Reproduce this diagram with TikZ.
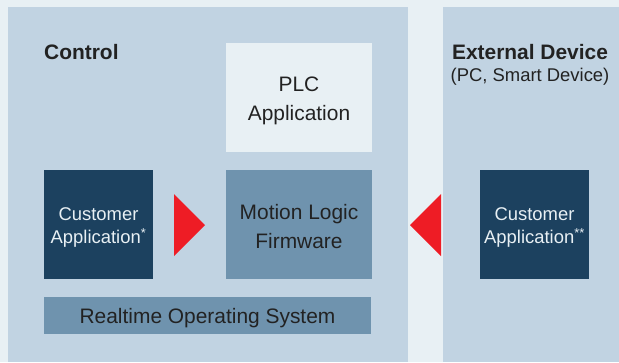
\documentclass[tikz,border=0pt]{standalone}
\usepackage{fontspec}
\setmainfont{Liberation Sans}
\definecolor{bgout}{HTML}{E8F0F4}
\definecolor{panel}{HTML}{C1D3E2}
\definecolor{navy}{HTML}{1C415F}
\definecolor{midblue}{HTML}{6F93AE}
\definecolor{arrred}{HTML}{EE1C25}
\definecolor{txt}{HTML}{222222}
\begin{document}
\begin{tikzpicture}[x=1bp,y=-1bp,
  blk/.style={inner sep=0pt, outer sep=0pt, anchor=north west},
  txtnode/.style={inner sep=0pt, outer sep=0pt, align=center, anchor=center},
  big/.style={font=\fontsize{21}{29}\selectfont, text=txt},
  small/.style={font=\fontsize{18.5}{24}\selectfont, text=bgout},
  lbl/.style={inner sep=0pt, anchor=base, text=txt}]
\fill[bgout] (0,0) rectangle (619,362);
\useasboundingbox (0,0) rectangle (619,362);
\fill[panel] (8,7) rectangle (408,362);
\fill[panel] (443,7) rectangle (619,362);
\node[blk, fill=bgout, minimum width=146bp, minimum height=109bp] (plc) at (226,43) {};
\node[txtnode, big, yshift=-3bp] (plct) at (plc.center) {PLC\\Application};
\node[blk, fill=midblue, minimum width=146bp, minimum height=109bp] (mlf) at (226,170) {};
\node[txtnode, big, yshift=-2bp] (mlft) at (mlf.center) {Motion Logic\\Firmware};
\node[blk, fill=navy, minimum width=109bp, minimum height=109bp] (cal) at (44,170) {};
\node[txtnode, small, yshift=-3bp] (calt) at (cal.center) {Customer\\Application\textsuperscript{*}};
\node[blk, fill=navy, minimum width=109bp, minimum height=109bp] (car) at (480,170) {};
\node[txtnode, small, yshift=-3bp] (cart) at (car.center) {Customer\\Application\textsuperscript{**}};
\node[blk, fill=midblue, minimum width=327bp, minimum height=37bp] (rtos) at (44,297) {};
\node[txtnode, font=\fontsize{21}{24}\selectfont, text=txt, yshift=-2.5bp] (rtost) at (rtos.center) {Realtime Operating System};
\node[lbl, anchor=base west, font=\fontsize{21}{26}\selectfont\bfseries] (ctl) at (44,59) {Control};
\node[lbl, font=\fontsize{21}{26}\selectfont\bfseries] (ext) at (530,59) {External Device};
\node[lbl, font=\fontsize{18.5}{24}\selectfont] (extsub) at (530,81) {(PC, Smart Device)};
% arrows
\fill[arrred] (174,194) -- (205,225) -- (174,256) -- cycle;
\fill[arrred] (441,194) -- (410,225) -- (441,256) -- cycle;
\end{tikzpicture}
\end{document}
